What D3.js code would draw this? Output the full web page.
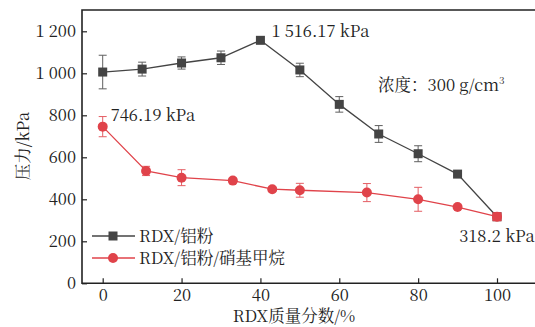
<!DOCTYPE html>
<html>
<head>
<meta charset="UTF-8">
<title>压力</title>
<script src="https://cdn.jsdelivr.net/npm/d3@7"></script>
<style>
  body { margin: 0; background: #fff; }
</style>
</head>
<body>
<div id="chart"></div>
<script>
// 数据
const xBlack = [0, 10, 20, 30, 40, 50, 60, 70, 80, 90, 100];
const yBlack = [1006, 1020, 1049, 1074, 1157, 1016, 852, 711, 617, 520, 317];
const eBlack = [80, 33, 29, 32, 0, 32, 37, 40, 38, 8, 0];

const xRed = [0, 11, 20, 33, 43, 50, 67, 80, 90, 100];
const yRed = [746, 535, 503, 489, 448, 443, 432, 400, 363, 317];
const eRed = [48, 22, 38, 12, 10, 33, 43, 57, 8, 0];

const xTicks = [0, 20, 40, 60, 80, 100];
const yTicks = [0, 200, 400, 600, 800, 1000, 1200];
const seriesNames = ["RDX/铝粉", "RDX/铝粉/硝基甲烷"];
const notes = [
  { x: 0, y: 746, text: "746.19 kPa" },
  { x: 40, y: 1157, text: "1 516.17 kPa" },
  { x: 100, y: 317, text: "318.2 kPa" }
];

const W = 535, H = 327;
const L = 82, T = 10, B = 283.3;
const black = "#444444", red = "#e0434a";
const SERIF = "'Noto Serif CJK SC'";
const FS = 16.5;

const x = d3.scaleLinear().domain([0, 100]).range([102.7, 497]);
const y = d3.scaleLinear().domain([0, 1200]).range([B, 31.3]);

const svg = d3.select("#chart").append("svg")
  .attr("width", W).attr("height", H);

// 文字放进 tspan 并指定宋体风格字体
function label(sel, size) {
  sel.attr("font-size", size).attr("fill", "#222");
  sel.each(function() {
    const t = d3.select(this);
    const str = t.text();
    t.text(null);
    t.append("tspan").text(str).style("font-family", SERIF);
  });
  return sel;
}

const fmt = d => d >= 1000 ? d3.format(",")(d).replace(",", " ") : String(d);

// 坐标轴
const gx = svg.append("g").attr("transform", "translate(0," + B + ")")
  .call(d3.axisBottom(x).tickValues(xTicks).tickSizeInner(-5).tickSizeOuter(0).tickPadding(6));
const gy = svg.append("g").attr("transform", "translate(" + L + ",0)")
  .call(d3.axisLeft(y).tickValues(yTicks).tickFormat(fmt).tickSizeInner(-5).tickSizeOuter(0).tickPadding(6));
[gx, gy].forEach(g => {
  g.select(".domain").remove();
  g.selectAll("line").attr("stroke", "#222").attr("stroke-width", 1.2);
  label(g.selectAll("text"), FS);
});
gx.selectAll("text").attr("dy", "0.71em");

// 边框(左、上、下)
svg.append("path")
  .attr("d", `M${W + 2},${T}H${L}V${B}H${W + 2}`)
  .attr("fill", "none").attr("stroke", "#222").attr("stroke-width", 1.6);

function drawSeries(xs, ys, es, color, shape) {
  const pts = xs.map((d, i) => ({ x: d, y: ys[i], e: es[i] }));
  const line = d3.line().x(d => x(d.x)).y(d => y(d.y));
  svg.append("path").datum(pts).attr("d", line)
    .attr("fill", "none").attr("stroke", color).attr("stroke-width", 1.3);
  const eb = svg.append("g").attr("stroke", color).attr("stroke-width", 1).attr("opacity", 0.85);
  pts.filter(d => d.e > 0).forEach(d => {
    const cx = x(d.x), y1 = y(d.y + d.e), y2 = y(d.y - d.e);
    eb.append("line").attr("x1", cx).attr("x2", cx).attr("y1", y1).attr("y2", y2);
    eb.append("line").attr("x1", cx - 4).attr("x2", cx + 4).attr("y1", y1).attr("y2", y1);
    eb.append("line").attr("x1", cx - 4).attr("x2", cx + 4).attr("y1", y2).attr("y2", y2);
  });
  pts.forEach(d => drawMarker(x(d.x), y(d.y), color, shape));
}

function drawMarker(cx, cy, color, shape) {
  if (shape === "square") {
    svg.append("rect").attr("x", cx - 4.5).attr("y", cy - 4.5)
      .attr("width", 9).attr("height", 9).attr("fill", color);
  } else {
    svg.append("circle").attr("cx", cx).attr("cy", cy).attr("r", 5).attr("fill", color);
  }
}

drawSeries(xBlack, yBlack, eBlack, black, "square");
drawSeries(xRed, yRed, eRed, red, "circle");
// 100% 处红色方块
drawMarker(x(100), y(317), red, "square");

// 注释
label(svg.append("text").text(notes[0].text), FS).attr("x", x(notes[0].x) + 8).attr("y", y(notes[0].y) - 6);
label(svg.append("text").text(notes[1].text), FS).attr("x", x(notes[1].x) + 11).attr("y", y(notes[1].y) - 3);
label(svg.append("text").text(notes[2].text), FS).attr("x", x(notes[2].x)).attr("y", y(notes[2].y) + 25)
  .attr("text-anchor", "middle");

const conc = label(svg.append("text").text("浓度：300 g/cm"), FS).attr("x", 378).attr("y", 91);
conc.append("tspan").attr("font-size", 10).attr("dy", -7).style("font-family", SERIF).text("3");

// 图例
const legend = svg.append("g");
[[black, "square"], [red, "circle"]].forEach((s, i) => {
  const ly = 236 + i * 22;
  legend.append("line").attr("x1", 92).attr("x2", 135).attr("y1", ly).attr("y2", ly)
    .attr("stroke", s[0]).attr("stroke-width", 1.3);
  drawMarker(113, ly, s[0], s[1]);
  label(legend.append("text").text(seriesNames[i]), FS).attr("x", 139).attr("y", ly + 6);
});

// 轴标题
label(svg.append("text").text("RDX质量分数/%"), FS).attr("x", 294).attr("y", 322).attr("text-anchor", "middle");
label(svg.append("text").text("压力/kPa"), FS).attr("transform", "translate(29,146) rotate(-90)")
  .attr("text-anchor", "middle");
</script>
</body>
</html>
